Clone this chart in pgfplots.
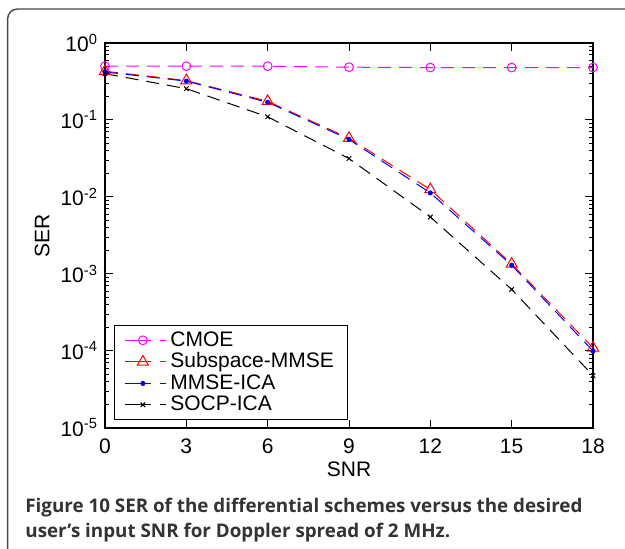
\documentclass[border=0pt]{standalone}
\usepackage{pgfplots}
\pgfplotsset{compat=1.18}
\usepackage{fontspec}
\setmainfont{Liberation Sans}
\newfontfamily\capfont{Open Sans}
\definecolor{capgray}{HTML}{333333}
\definecolor{mag}{RGB}{255,0,255}
\begin{document}
\begin{tikzpicture}[x=1pt,y=1pt]
\useasboundingbox (0,0) rectangle (312.5,274.5);
\draw[color=capgray!90, line width=0.7pt, rounded corners=5pt] (3.8,-20) rectangle (330,270);
\begin{axis}[
  at={(52.5pt,60.5pt)}, anchor=south west,
  width=244pt, height=192.5pt, scale only axis,
  ymode=log, xmin=0, xmax=18, ymin=1e-5, ymax=1,
  xtick={0,3,6,9,12,15,18},
  ytick={1e-5,1e-4,1e-3,1e-2,1e-1,1},
  yticklabels={10\textsuperscript{-5},10\textsuperscript{-4},10\textsuperscript{-3},10\textsuperscript{-2},10\textsuperscript{-1},10\textsuperscript{0}},
  /pgf/number format/assume math mode=true,
  tick label style={font=\fontsize{10.5}{12}\selectfont},
  xticklabel style={yshift=-2pt},
  label style={font=\fontsize{10.5}{12}\selectfont},
  axis line style={line width=0.6pt},
  tick style={black, line width=0.5pt},
  major tick length=4pt, minor tick length=2pt,
  tick align=inside,
  xlabel={SNR}, ylabel={SER},
  xlabel style={at={(axis description cs:0.5,-0.108)}, anchor=center},
  ylabel style={at={(axis description cs:-0.129,0.5)}, anchor=center},
  legend style={at={(0.018,0.021)}, anchor=south west, draw=black, line width=0.6pt,
    font=\fontsize{10.5}{12}\selectfont, row sep=0pt, inner xsep=5pt, inner ysep=2pt,
    nodes={inner ysep=0.9pt}},
  legend cell align=left,
  legend image code/.code={
    \draw[solid] (0pt,0pt) -- (13pt,0pt);
    \draw[solid] plot coordinates {(9pt,0pt)};
    \draw[solid] (17.5pt,0pt) -- (20.5pt,0pt);
  },
  every axis plot/.append style={line width=0.5pt, dash pattern=on 6.5pt off 4pt},
]
\addplot[color=mag, mark=o, mark size=2.2pt, mark options={solid}] coordinates {
(0,0.50)(3,0.50)(6,0.50)(9,0.485)(12,0.48)(15,0.48)(18,0.48)};
\addlegendentry{CMOE}
\addplot[color=red, mark=triangle, mark size=3.2pt, mark options={solid}] coordinates {
(0,0.43)(3,0.325)(6,0.175)(9,0.058)(12,0.0125)(15,0.00135)(18,1.1e-4)};
\addlegendentry{Subspace-MMSE}
\addplot[color=blue, mark=*, mark size=1pt, mark options={solid}] coordinates {
(0,0.42)(3,0.32)(6,0.17)(9,0.056)(12,0.0113)(15,0.0013)(18,1.0e-4)};
\addlegendentry{MMSE-ICA}
\addplot[color=black, mark=x, mark size=1.6pt, mark options={solid}] coordinates {
(0,0.40)(3,0.255)(6,0.11)(9,0.0316)(12,0.0055)(15,6.3e-4)(18,4.8e-5)};
\addlegendentry{SOCP-ICA}
\end{axis}
\node[anchor=base west, inner sep=0pt, text=capgray] at (12.5,18) {\capfont\fontsize{9.4}{11}\selectfont\bfseries Figure 10 SER of the differential schemes versus the desired};
\node[anchor=base west, inner sep=0pt, text=capgray] at (12.5,5.5) {\capfont\fontsize{9.4}{11}\selectfont\bfseries user’s input SNR for Doppler spread of 2 MHz.};
\end{tikzpicture}
\end{document}
